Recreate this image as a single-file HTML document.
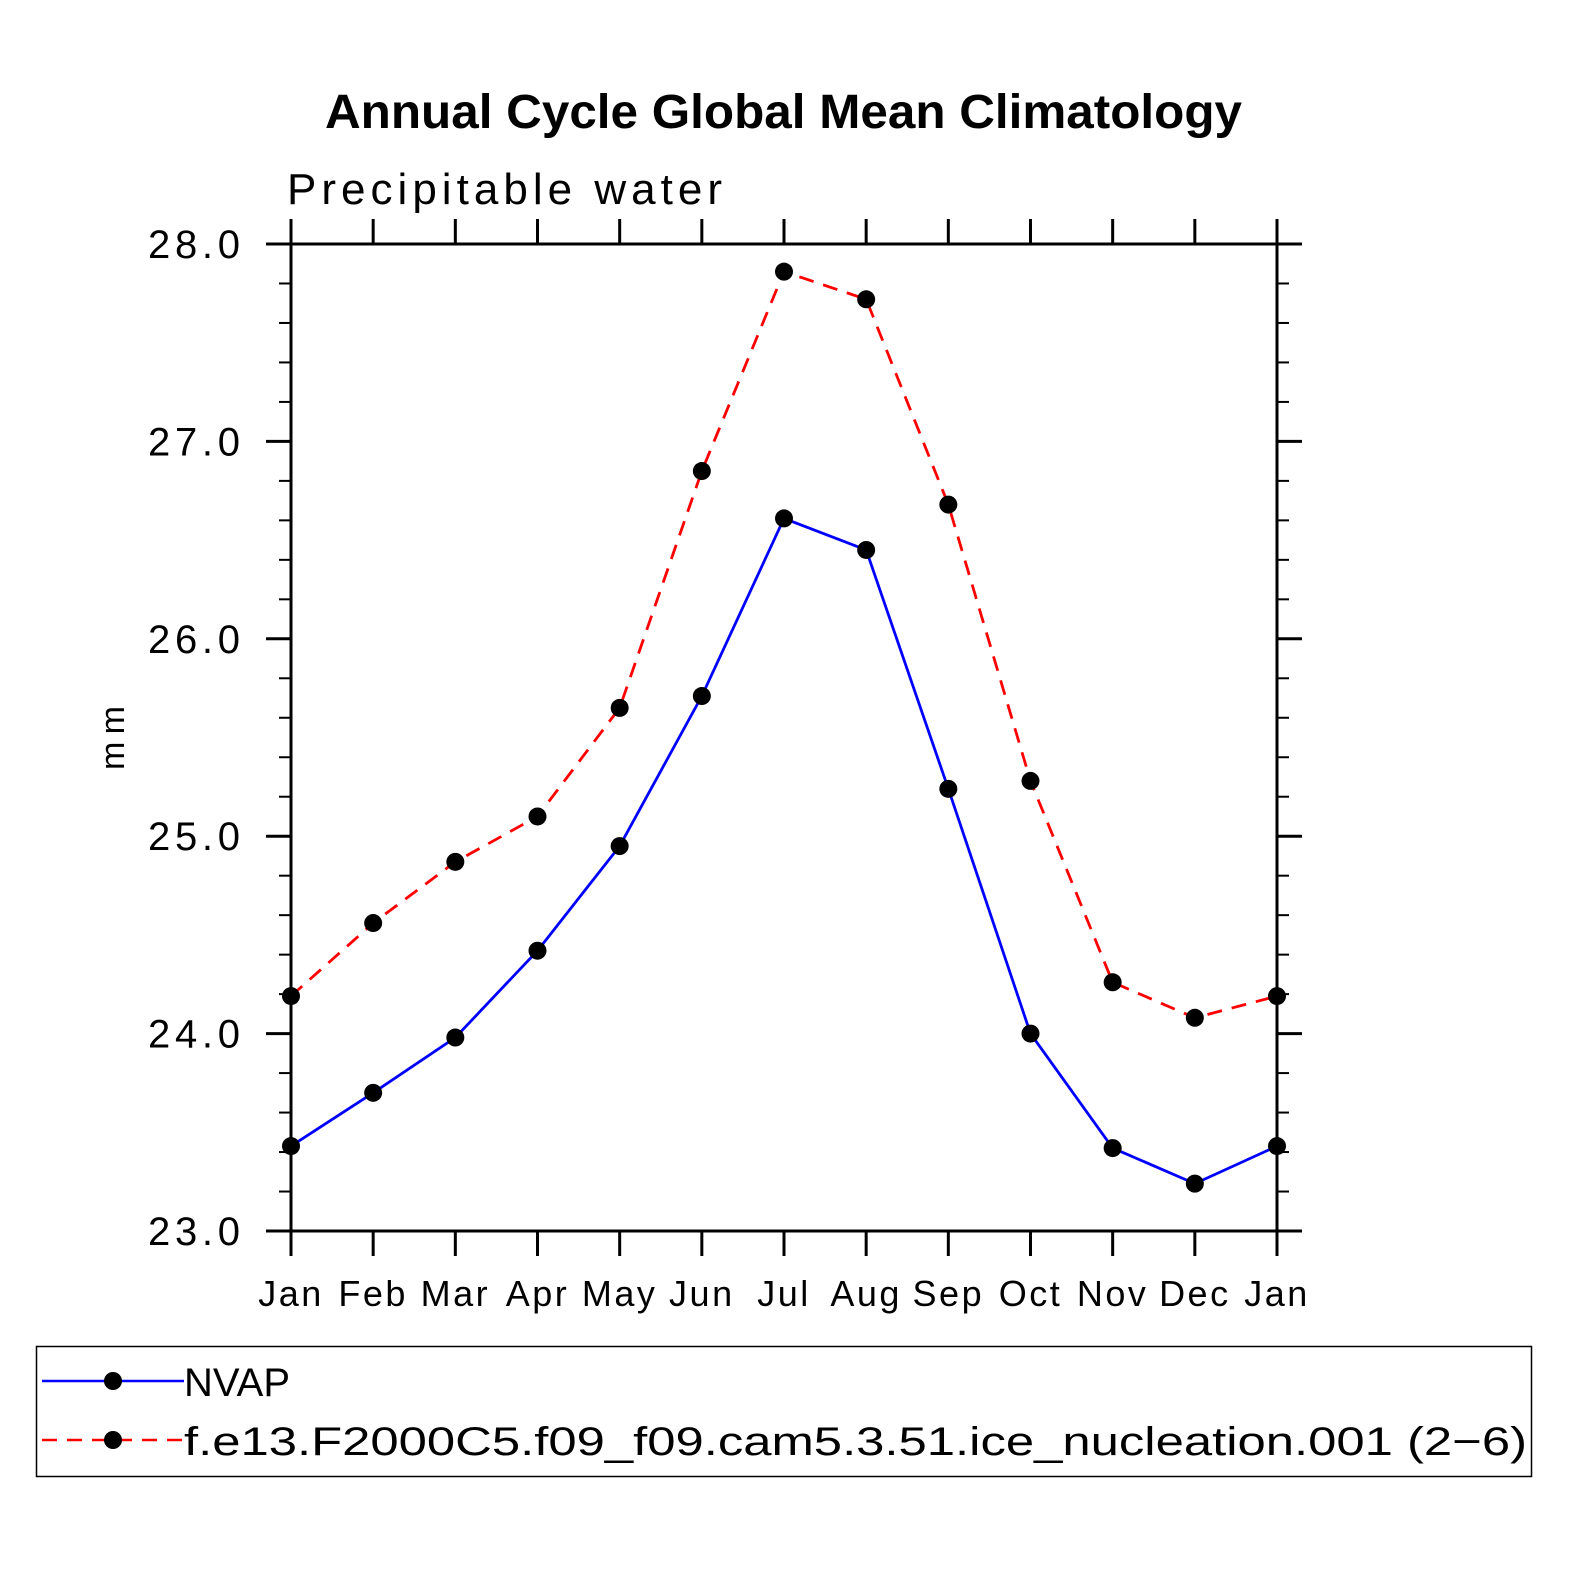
<!DOCTYPE html>
<html><head><meta charset="utf-8"><style>
html,body{margin:0;padding:0;background:#fff;}
svg text{font-family:"Liberation Sans",sans-serif;}
</style></head><body>
<svg id="chart" width="1574" height="1574" viewBox="0 0 1574 1574" xmlns="http://www.w3.org/2000/svg">
<rect width="1574" height="1574" fill="#fff"/>
<text x="325" y="128" font-size="48" font-weight="bold" textLength="917" lengthAdjust="spacingAndGlyphs">Annual Cycle Global Mean Climatology</text>
<text x="287" y="204" font-size="44" font-weight="300" textLength="435" lengthAdjust="spacing">Precipitable water</text>
<text transform="translate(124,738) rotate(-90)" text-anchor="middle" font-size="34" textLength="64" lengthAdjust="spacing">mm</text>
<g id="axes"></g>
<g id="series"></g>
<rect x="36.5" y="1346.5" width="1495" height="130" fill="none" stroke="#000" stroke-width="1.5"/>
<g>
<line x1="42" y1="1381" x2="184" y2="1381" stroke="#00f" stroke-width="2.5"/>
<circle cx="113" cy="1381" r="9" fill="#000"/>
<text x="184" y="1396" font-size="40" font-weight="300" textLength="106" lengthAdjust="spacing">NVAP</text>
</g>
<g>
<line x1="42" y1="1440" x2="184" y2="1440" stroke="#f00" stroke-width="2.5" stroke-dasharray="15,10"/>
<circle cx="113" cy="1440" r="9" fill="#000"/>
<text x="184" y="1455" font-size="40" font-weight="300" textLength="1343" lengthAdjust="spacingAndGlyphs">f.e13.F2000C5.f09_f09.cam5.3.51.ice_nucleation.001 (2−6)</text>
</g>
</svg>
<script>
const months = ["Jan","Feb","Mar","Apr","May","Jun","Jul","Aug","Sep","Oct","Nov","Dec","Jan"];
const nvap = [23.43,23.70,23.98,24.42,24.95,25.71,26.61,26.45,25.24,24.00,23.42,23.24,23.43];
const model = [24.19,24.56,24.87,25.10,25.65,26.85,27.86,27.72,26.68,25.28,24.26,24.08,24.19];
const yTicks = [23,24,25,26,27,28];
const yTickLabels = ["23.0","24.0","25.0","26.0","27.0","28.0"];

const NS="http://www.w3.org/2000/svg";
const X0=291,X1=1277,Y0=1231,Y1=244,YMIN=23,YMAX=28;
const xs=i=>X0+(X1-X0)*i/(months.length-1);
const ys=v=>Y0-(v-YMIN)/(YMAX-YMIN)*(Y0-Y1);
function mk(tag,attrs,parent){const e=document.createElementNS(NS,tag);for(const k in attrs)e.setAttribute(k,attrs[k]);parent.appendChild(e);return e;}
const axes=document.getElementById('axes');
const frame=mk('rect',{x:X0,y:Y1,width:X1-X0,height:Y0-Y1,fill:'none',stroke:'#000','stroke-width':3},axes);


months.forEach((m,i)=>{
  const x=xs(i);
  const t=mk('line',{x1:x,y1:Y0,x2:x,y2:Y0+25,stroke:'#000','stroke-width':3},axes);
  
  
  const t2=mk('line',{x1:x,y1:Y1,x2:x,y2:Y1-25,stroke:'#000','stroke-width':3},axes);
  
  
  const l=mk('text',{x:x,y:1306,'text-anchor':'middle','font-size':36,'font-weight':300,'letter-spacing':2.5},axes);
  l.textContent=m;
  
  
});
for(let v=YMIN;v<=YMAX+1e-6;v+=0.2){
  const major=Math.abs(v-Math.round(v))<1e-6;const y=ys(v);const len=major?25:12;
  const a=mk('line',{x1:X0-len,y1:y,x2:X0,y2:y,stroke:'#000','stroke-width':major?3:2},axes);
  
  
  const b=mk('line',{x1:X1,y1:y,x2:X1+len,y2:y,stroke:'#000','stroke-width':major?3:2},axes);
  
  
}
yTicks.forEach((v,i)=>{
  const l=mk('text',{x:148,y:ys(v)+14,'font-size':40,'font-weight':300,textLength:92,lengthAdjust:'spacing'},axes);
  l.textContent=yTickLabels[i];
  
  
});
const series=document.getElementById('series');
function draw(vals,color,dash,name){
  const pts=vals.map((v,i)=>xs(i)+','+ys(v)).join(' ');
  const p=mk('polyline',{points:pts,fill:'none',stroke:color,'stroke-width':2.8},series);
  if(dash)p.setAttribute('stroke-dasharray',dash);
  
  
  vals.forEach((v,i)=>{
    const c=mk('circle',{cx:xs(i),cy:ys(v),r:9,fill:'#000'},series);
    
    
  });
}
draw(model,'#f00','15,10','model');
draw(nvap,'#00f',null,'nvap');
</script>
</body></html>
